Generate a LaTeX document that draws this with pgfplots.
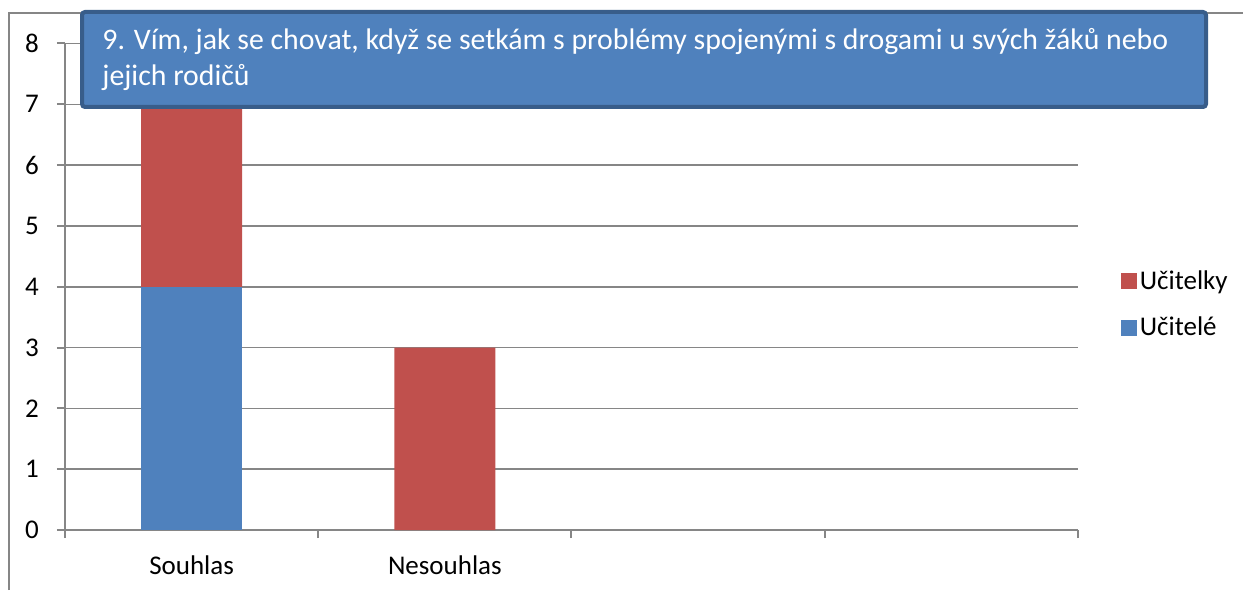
\documentclass[border=0pt]{standalone}
\usepackage{pgfplots}
\pgfplotsset{compat=1.18}
\usepackage{fontspec}
\setmainfont{Carlito}
\definecolor{ublue}{HTML}{4F81BD}
\definecolor{ured}{HTML}{C0504D}
\definecolor{uborder}{HTML}{385D8A}
\definecolor{ugray}{HTML}{868686}
\begin{document}
\begin{tikzpicture}
\begin{axis}[
  at={(0pt,0pt)}, anchor=south west,
  width=506.5pt, height=243.25pt, scale only axis,
  ybar stacked, bar width=50.5pt,
  xmin=-0.5, xmax=3.5, ymin=0, ymax=8,
  xtick={0,1,2,3}, xticklabels={Souhlas,Nesouhlas,{},{}},
  minor xtick={-0.5,0.5,1.5,2.5,3.5},
  ytick={0,1,2,3,4,5,6,7,8},
  axis x line*=bottom, axis y line*=left,
  axis line style={ugray, line width=1pt},
  tick align=outside,
  major tick length=4pt, minor tick length=4pt,
  major x tick style={draw=none},
  minor x tick style={ugray, line width=1pt},
  ytick style={ugray, line width=1pt},
  ymajorgrids, major grid style={ugray, line width=0.8pt},
  tick label style={font=\fontsize{13.5}{16}\selectfont, /pgf/number format/assume math mode=true},
  xticklabel style={yshift=-5.5pt},
  yticklabel style={xshift=-5.5pt},
  legend style={at={(1.036,0.4635)}, anchor=west, draw=none, fill=none,
    font=\fontsize{13.5}{16}\selectfont, row sep=9.5pt, nodes={inner sep=1.5pt}},
  legend cell align=left, reverse legend,
]
\addplot[fill=ublue, draw=none, legend image code/.code={\fill[ublue] (0pt,-4pt) rectangle (8pt,4pt);}]
  coordinates {(0,4) (1,0)};
\addplot[fill=ured, draw=none, legend image code/.code={\fill[ured] (0pt,-4pt) rectangle (8pt,4pt);}]
  coordinates {(0,3) (1,3)};
\legend{Učitelé, Učitelky}
\end{axis}
\draw[ugray, line width=1pt] (-28pt,-30pt) -- (-28pt,258.5pt) -- (589pt,258.5pt);
\draw[uborder, fill=ublue, line width=2pt, rounded corners=1.5pt] (8.5pt,211.5pt) rectangle (570.5pt,259pt);
\node[anchor=base west, inner sep=0pt, text=white, font=\fontsize{14.9}{18}\selectfont] at (18.5pt,240pt)
  {9. Vím, jak se chovat, když se setkám s problémy spojenými s drogami u svých žáků nebo};
\node[anchor=base west, inner sep=0pt, text=white, font=\fontsize{14.9}{18}\selectfont] at (18.5pt,222pt)
  {jejich rodičů};
\pgfresetboundingbox
\useasboundingbox (-32.5pt,-30pt) rectangle (589pt,265pt);
\end{tikzpicture}
\end{document}
